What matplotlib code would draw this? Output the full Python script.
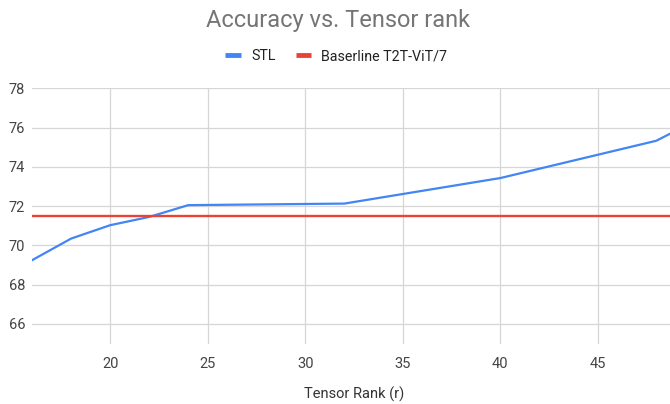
import matplotlib.pyplot as plt
from matplotlib.lines import Line2D

plt.rcParams['font.family'] = ['Roboto', 'DejaVu Sans']

# values
ranks = [16, 18, 20, 22, 24, 32, 40, 48, 50]
stl_acc = [69.25, 70.35, 71.03, 71.45, 72.05, 72.13, 73.43, 75.33, 76.35]
baseline_acc = 71.5
x_ticks = [20, 25, 30, 35, 40, 45]
y_ticks = [66, 68, 70, 72, 74, 76, 78]

blue = '#4285F4'
red = '#EA4335'

fig = plt.figure(figsize=(6.7, 4.04), dpi=100)
ax = fig.add_axes([0.048, 0.1495, 0.952, 0.6319])

ax.plot(ranks, stl_acc, color=blue, lw=1.6, zorder=3)
ax.axhline(baseline_acc, color=red, lw=1.7, zorder=3)

ax.set_xlim(16, 48.7)
ax.set_ylim(65, 78)
ax.set_xticks(x_ticks)
ax.set_yticks(y_ticks)
ax.grid(True, color='#d6d6d6', lw=0.9)
ax.set_axisbelow(True)
for s in ax.spines.values():
    s.set_visible(False)
ax.tick_params(length=0, labelsize=10.5, labelcolor='#444444')
ax.tick_params(axis='x', pad=10)
ax.tick_params(axis='y', pad=5)

fig.text(0.528, 0.004, 'Tensor Rank (r)', fontsize=10.5, color='#333333',
         ha='center', va='bottom')
fig.text(0.505, 0.933, 'Accuracy vs. Tensor rank', fontsize=17, color='#757575',
         ha='center', va='baseline')

handles = [Line2D([], [], color=blue, lw=3.5, solid_capstyle='butt'),
           Line2D([], [], color=red, lw=3.5, solid_capstyle='butt')]
fig.legend(handles, ['STL', 'Baserline T2T-ViT/7'], loc='center',
           bbox_to_anchor=(0.502, 0.861), ncol=2, frameon=False,
           fontsize=10.3, handlelength=1.1, columnspacing=1.4, handletextpad=0.7,
           labelcolor='#222222')

fig.savefig('out.png', dpi=100)
